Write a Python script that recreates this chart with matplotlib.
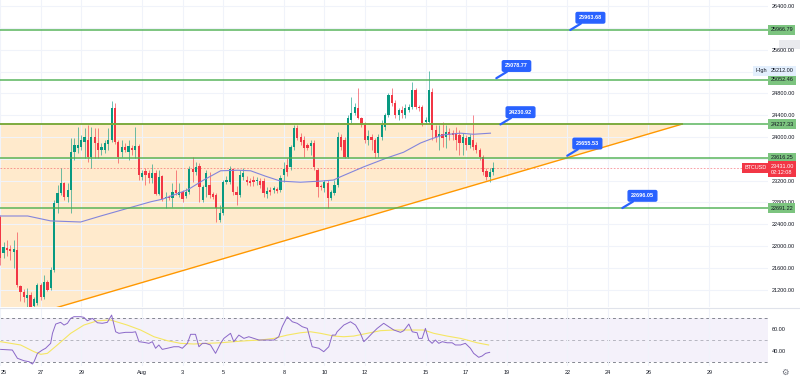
import numpy as np
import pandas as pd
import matplotlib
matplotlib.use('Agg')
import matplotlib.pyplot as plt
import matplotlib.transforms as mtransforms
from matplotlib.lines import Line2D
from matplotlib.patches import Rectangle

plt.rcParams['font.family'] = ['Liberation Sans', 'DejaVu Sans']

# BTCUSD 4h candles from 25 Jul 2022
opens = [22530, 21870, 21960, 21950, 21890, 21930, 21270, 21160, 21050, 21100,
         20900, 20950, 21290, 21060, 21340, 21230, 21560, 22790, 22970, 23160,
         22900, 23030, 23720, 23800, 23820, 23910, 23950, 23630, 24000, 23890,
         23760, 23760, 23870, 23950, 24530, 23910, 23720, 23820, 23720, 23800,
         23760, 23830, 23270, 23380, 23340, 23250, 23340, 22950, 23280, 22880,
         22900, 22880, 23030, 22940, 22990, 22920, 22990, 23410, 23360, 23470,
         22840, 23080, 23120, 22950, 22940, 22480, 22610, 23170, 23170, 23410,
         22990, 22940, 23270, 23210, 23190, 23210, 23190, 23190, 23190, 22950,
         23030, 23030, 23050, 23030, 23300, 23490, 23450, 23820, 24170, 24000,
         23950, 23850, 23830, 23890, 23390, 23100, 23060, 23160, 22880, 22970,
         23120, 24000, 23950, 23630, 24310, 24440, 24530, 24350, 24220, 23950,
         24000, 23950, 23710, 24000, 24180, 24400, 24770, 24620, 24400, 24500,
         24400, 24500, 24550, 24860, 24550, 24550, 24280, 24280, 24830, 24130,
         24000, 24050, 24000, 24090, 24070, 24070, 24040, 23890, 23980, 23850,
         23950, 23850, 23760, 23630, 23380, 23270, 23360]
highs = [22570, 22070, 22110, 22020, 22110, 22260, 21290, 21210, 21230, 21160,
         21060, 21320, 21320, 21470, 21380, 21610, 22840, 23120, 23430, 23170,
         23160, 23980, 23980, 24180, 24040, 24170, 24220, 24180, 24170, 24170,
         23890, 23950, 24170, 24660, 24620, 23950, 23950, 23890, 23950, 23850,
         24180, 23870, 23390, 23430, 23390, 23500, 23390, 23390, 23300, 22990,
         22940, 23160, 23390, 23160, 23030, 23060, 23470, 23630, 23540, 23520,
         23120, 23390, 23360, 22990, 22970, 22750, 23210, 23280, 23470, 23430,
         23100, 23390, 23430, 23280, 23250, 23280, 23270, 23250, 23250, 23080,
         23080, 23100, 23080, 23300, 23540, 23620, 23850, 24220, 24220, 24070,
         24020, 23890, 23950, 23950, 23430, 23140, 23210, 23210, 23030, 23210,
         24090, 24050, 24000, 24400, 24730, 24620, 24900, 24370, 24280, 24130,
         24050, 23980, 24050, 24310, 24440, 24810, 24900, 24680, 24530, 24570,
         24610, 24610, 25010, 24900, 24590, 24590, 24370, 25212, 24900, 24220,
         24220, 24280, 24220, 24170, 24130, 24180, 24130, 24070, 24040, 24050,
         24400, 23910, 23800, 23670, 23430, 23430, 23540]
lows = [21650, 21780, 21820, 21740, 21600, 21250, 20990, 20970, 20860, 20830,
        20840, 20920, 21010, 21030, 21170, 21190, 21520, 22610, 22940, 22840,
        22810, 22610, 23580, 23710, 23760, 23620, 23540, 23430, 23620, 23620,
        23670, 23710, 23760, 23910, 23870, 23520, 23630, 23720, 23580, 23670,
        23620, 23210, 23210, 23120, 23160, 23160, 22940, 22940, 22820, 22700,
        22840, 22720, 22940, 22900, 22810, 22880, 22950, 23170, 23300, 22810,
        22810, 22900, 22880, 22860, 22440, 22440, 22570, 23140, 23140, 22940,
        22750, 22900, 23210, 23120, 23100, 23100, 23120, 23060, 22900, 22880,
        22940, 22970, 22970, 22990, 23170, 23280, 23390, 23760, 23950, 23850,
        23630, 23760, 23670, 23390, 22900, 23030, 22990, 22700, 22840, 22940,
        23080, 23760, 23620, 23620, 24260, 24400, 24330, 24180, 23890, 23850,
        23760, 23620, 23630, 23950, 24130, 24370, 24570, 24350, 24310, 24350,
        24350, 24460, 24510, 24510, 24480, 24200, 24240, 24240, 23950, 23910,
        23760, 23820, 23800, 23950, 23950, 23760, 23670, 23670, 23760, 23800,
        23760, 23710, 23580, 23300, 23210, 23170, 23300]
closes = [21780, 21980, 21930, 21910, 21950, 21290, 21160, 21060, 21100, 20880,
          21030, 21290, 21060, 21340, 21190, 21560, 22790, 22970, 23160, 22900,
          23030, 23720, 23850, 23850, 23950, 24000, 23630, 24000, 23890, 23760,
          23820, 23890, 23950, 24530, 23910, 23630, 23820, 23760, 23830, 23760,
          23830, 23300, 23340, 23300, 23250, 23340, 22950, 23270, 22860, 22900,
          22880, 22990, 22970, 22990, 22860, 22990, 23410, 23360, 23450, 23080,
          23080, 23340, 22940, 22900, 22700, 22610, 23170, 23210, 23410, 22990,
          22940, 23300, 23340, 23170, 23160, 23170, 23210, 23120, 22970, 23010,
          22990, 23060, 23010, 23250, 23410, 23360, 23820, 24170, 23980, 23910,
          23800, 23800, 23890, 23450, 23080, 23080, 23170, 22880, 22990, 23120,
          24000, 23820, 23630, 24350, 24440, 24550, 24350, 24220, 23950, 24020,
          23950, 23710, 24000, 24220, 24400, 24770, 24620, 24400, 24500, 24440,
          24530, 24550, 24860, 24550, 24530, 24260, 24310, 24860, 24130, 24000,
          24050, 23980, 24090, 24040, 24040, 23950, 23890, 24000, 23850, 24000,
          23820, 23760, 23630, 23360, 23270, 23360, 23431]
start = pd.Timestamp('2022-07-25 00:00')

# blue moving average on the price pane (days after 25 Jul, price)
ma_day = [0.02, 1.36, 2.49, 3.97, 4.96, 6.19, 7.42, 8.02, 9.25, 10.04, 10.88, 11.72,
          12.36, 13.10, 13.84, 14.82, 15.81, 16.45, 16.80, 17.93, 19.12, 19.91,
          20.75, 21.24, 21.88, 22.72, 23.36, 24.20]
ma_val = [22550, 22550, 22460, 22440, 22550, 22680, 22810, 22860, 23030, 23210, 23380, 23390,
          23380, 23280, 23190, 23170, 23190, 23210, 23270, 23450, 23620, 23720,
          23890, 23960, 24040, 24070, 24050, 24070]

# RSI and its moving average
rsi_day = [0.02, 0.60, 0.85, 1.17, 1.42, 1.59, 1.67, 1.84, 2.08, 2.24, 2.49, 2.58, 2.74,
           2.98, 3.15, 3.32, 3.48, 3.64, 3.97, 4.13, 4.30, 4.55, 4.80, 5.04, 5.29, 5.50,
           5.70, 5.86, 6.19, 6.52, 6.68, 6.85, 7.09, 7.34, 7.51, 7.67, 7.83, 8.00, 8.25,
           8.57, 8.82, 8.99, 9.24, 9.40, 9.64, 9.81, 9.98, 10.14, 10.38, 10.63, 10.88,
           11.04, 11.37, 11.53, 11.78, 12.03, 12.27, 12.52, 12.77, 13.18, 13.51, 13.75,
           13.92, 14.17, 14.42, 14.66, 14.91, 15.16, 15.40, 15.73, 15.97, 16.22, 16.39,
           16.55, 16.63, 16.96, 17.29, 17.54, 17.78, 17.95, 18.12, 18.36, 18.61, 18.93,
           19.18, 19.43, 19.76, 19.92, 20.17, 20.34, 20.58, 20.66, 20.83, 20.99, 21.15,
           21.32, 21.48, 21.65, 21.82, 22.06, 22.31, 22.47, 22.72, 22.96, 23.21, 23.37,
           23.62, 23.79, 23.96, 24.16]
rsi_val = [41.5, 40.9, 33.4, 31.2, 30.3, 28.2, 30.3, 37.9, 40.9, 42.5, 47.0, 56.1, 64.5,
           66.1, 63.6, 65.2, 69.7, 71.2, 71.2, 70.6, 67.5, 69.7, 65.7, 65.2, 66.1, 72.7,
           57.5, 56.1, 57.0, 57.0, 57.5, 48.5, 47.9, 47.0, 48.5, 42.5, 45.5, 41.5, 42.5,
           43.9, 43.9, 42.5, 47.0, 55.2, 55.2, 43.9, 47.0, 47.0, 45.5, 37.9, 47.0,
           51.5, 56.1, 48.5, 54.5, 51.5, 53.0, 51.5, 50.0, 50.0, 50.0, 53.0,
           62.1, 71.2, 66.6, 65.2, 62.1, 60.6, 43.9, 42.5, 39.4, 43.9, 54.5,
           54.5, 57.5, 63.6, 66.6, 63.6, 56.1, 48.5, 51.5, 56.1, 60.6, 65.2,
           62.1, 59.1, 57.0, 58.5, 64.5, 57.5, 56.6, 51.5, 51.5, 60.6, 50.0,
           47.0, 50.0, 47.0, 48.5, 47.5, 47.5, 45.5, 45.5, 47.0, 42.5, 37.9,
           34.3, 35.5, 37.9, 38.8]
rsi_ma_day = [0.02, 1.01, 1.67, 2.00, 2.33, 2.82, 3.48, 4.13, 4.80, 5.45, 6.27, 6.93, 7.59,
              8.25, 8.90, 9.56, 10.22, 10.88, 11.53, 12.20, 12.85, 13.51, 14.17, 14.82,
              15.32, 15.81, 16.47, 16.96, 17.45, 18.12, 18.77, 19.43, 20.25, 20.91,
              21.40, 22.06, 22.72, 23.05, 23.54, 24.11]
rsi_ma_val = [48.5, 45.5, 39.4, 37.0, 37.9, 45.5, 56.1, 63.6, 67.5, 68.2, 63.6, 59.1, 53.0,
              49.4, 47.0, 46.4, 47.0, 47.5, 48.5, 49.4, 50.0, 51.5, 54.5, 56.6,
              57.5, 56.1, 53.6, 53.0, 53.6, 56.1, 58.5, 59.1, 59.1, 59.1,
              56.1, 53.6, 51.5, 50.0, 47.5, 45.5]

# horizontal levels and their callouts
levels = [25966.79, 25052.46, 24237.33, 23616.25, 22691.22]
callout_txt = ['25963.68', '25078.77', '24230.92', '23655.53', '22696.05']
callout_day = [28.14, 24.49, 24.69, 27.99, 30.71]

# triangle drawing (day, price)
tri_day = [-3.0, 33.67, -3.0]
tri_price = [24237.33, 24237.33, 20238.0]

high_val = 25212.00
last_price = 23431.00
countdown = '02:12:08'

price_ticks = list(range(21200, 26401, 400))
hidden_ticks = [26000, 25200, 23600]
xtick_dates = ['2022-07-25', '2022-07-27', '2022-07-29', '2022-08-01', '2022-08-03',
               '2022-08-05', '2022-08-08', '2022-08-10', '2022-08-12', '2022-08-15',
               '2022-08-17', '2022-08-19', '2022-08-22', '2022-08-24', '2022-08-26',
               '2022-08-29']
xtick_labels = ['25', '27', '29', 'Aug', '3', '5', '8', '10', '12', '15', '17', '19',
                '22', '24', '26', '29']

GREEN = '#089981'
RED = '#f23645'
LEVEL = '#4caf50'
ORANGE = '#ff9800'
BLUE = '#2962ff'
GRID = '#f0f3fa'
TXT = '#131722'

opens = np.array(opens, float)
highs = np.array(highs, float)
lows = np.array(lows, float)
closes = np.array(closes, float)
times = pd.date_range(start, periods=len(opens), freq='4h')
days = ((times - start) / pd.Timedelta(days=1)).values
xt = [(pd.Timestamp(d) - start) / pd.Timedelta(days=1) for d in xtick_dates]

fig = plt.figure(figsize=(8, 3.81), dpi=100)
fig.patch.set_facecolor('white')
ax = fig.add_axes([0, 74 / 381, 768 / 800, 307 / 381])
ax2 = fig.add_axes([0, 15 / 381, 768 / 800, 57 / 381], sharex=ax)

# price pane
ax.set_xlim(-0.01, 37.9)
ax.set_ylim(20880, 26514)
ax.set_yticks(price_ticks)
ax.set_yticklabels(['' if p in hidden_ticks else f'{p:.2f}' for p in price_ticks])
ax.yaxis.tick_right()
ax.tick_params(axis='y', length=0, pad=3, labelsize=4, labelcolor=TXT)
ax.tick_params(axis='x', length=0, labelbottom=False)
ax.set_xticks(xt)
ax.grid(True, color=GRID, lw=0.8, zorder=0)
for s in ax.spines.values():
    s.set_visible(False)

ax.fill(tri_day, tri_price, color=ORANGE, alpha=0.2, lw=0, zorder=1)
ax.plot(tri_day[:2], tri_price[:2], color=ORANGE, lw=1.2, zorder=5)
ax.plot(tri_day[1:], tri_price[1:], color=ORANGE, lw=1.0, zorder=5)

up = closes >= opens
col = np.where(up, GREEN, RED)
ax.vlines(days, lows, highs, colors=col, lw=0.6, alpha=0.7, zorder=3)
body_lo = np.minimum(opens, closes)
body_h = np.maximum(np.abs(closes - opens), 15)
ax.bar(days, body_h, bottom=body_lo, width=0.11, color=col, lw=0, zorder=4)

ax.plot(ma_day, ma_val, color='#8385dc', lw=0.8, zorder=4)
ax.axhline(last_price, color=RED, lw=0.6, ls=(0, (2, 2)), alpha=0.55, zorder=2)

for lv in levels:
    ax.axhline(lv, color=LEVEL, lw=1.2, alpha=0.85, zorder=6)

for txt, d in zip(callout_txt, callout_day):
    ax.annotate(txt, xy=(d, float(txt)), xytext=(14.5, 8.8), textcoords='offset points',
                fontsize=4, color='white', fontweight='bold', ha='center', va='center',
                bbox=dict(boxstyle='round,pad=0.5,rounding_size=0.25', fc=BLUE, ec=BLUE),
                arrowprops=dict(arrowstyle='-', color=BLUE, lw=1.6, shrinkA=0, shrinkB=0),
                zorder=8)

# right scale labels
trans = mtransforms.blended_transform_factory(ax.transAxes, ax.transData)
for lv in levels:
    ax.text(1.003, lv, f'{lv:.2f}', transform=trans, fontsize=4, ha='left', va='center',
            color=TXT, clip_on=False, zorder=10,
            bbox=dict(boxstyle='square,pad=0.45', fc='#7cc47f', ec='none'))
ax.text(0.999, high_val, 'High', transform=trans, fontsize=4, ha='right', va='center',
        color=TXT, clip_on=False, zorder=10,
        bbox=dict(boxstyle='square,pad=0.45', fc='#e3effd', ec='none'))
ax.text(1.003, high_val, f'{high_val:.2f}', transform=trans, fontsize=4, ha='left',
        va='center', color=TXT, clip_on=False, zorder=10,
        bbox=dict(boxstyle='square,pad=0.45', fc='#e3effd', ec='none'))
ax.text(0.999, last_price, 'BTCUSD', transform=trans, fontsize=4, ha='right', va='center',
        color='white', clip_on=False, zorder=10,
        bbox=dict(boxstyle='square,pad=0.45', fc=RED, ec='none'))
tr_up = mtransforms.offset_copy(trans, fig=fig, x=0, y=3.2, units='points')
ax.text(1.003, last_price, f'{last_price:.2f}\n{countdown}', transform=tr_up, fontsize=4,
        ha='left', va='top', color='white', linespacing=1.3, clip_on=False, zorder=10,
        bbox=dict(boxstyle='square,pad=0.45', fc=RED, ec='none'))
# small grey scale button, drawn beneath the tick labels
fig.add_artist(Rectangle((779 / 800, 1 - 49 / 381), 21 / 800, 9 / 381,
                         transform=fig.transFigure, fc='#e9eaee', ec='none', zorder=-1))

# RSI pane
ax2.set_ylim(26.4, 78.2)
ax2.axhspan(30, 70, color='#7e57c2', alpha=0.08, lw=0, zorder=0)
ax2.grid(True, axis='x', color=GRID, lw=0.8, zorder=0)
for lv, a in [(70, 0.9), (50, 0.5), (30, 0.9)]:
    ax2.axhline(lv, color='#787b86', lw=0.7, ls=(0, (3, 3)), alpha=a, zorder=1)
ax2.plot(rsi_ma_day, rsi_ma_val, color='#f5e663', lw=0.8, zorder=2)
ax2.plot(rsi_day, rsi_val, color='#8a67c8', lw=0.7, zorder=3)
ax2.set_yticks([40, 60])
ax2.set_yticklabels(['40.00', '60.00'])
ax2.yaxis.tick_right()
ax2.tick_params(axis='y', length=0, pad=3, labelsize=4, labelcolor=TXT)
ax2.set_xticks(xt)
ax2.set_xticklabels(xtick_labels)
ax2.tick_params(axis='x', length=0, pad=3, labelsize=4, labelcolor=TXT)
ax2.get_xticklabels()[0].set_horizontalalignment('left')
for s in ax2.spines.values():
    s.set_visible(False)
ax2.text(1.022, -0.12, '\u2699', transform=ax2.transAxes, fontsize=6, color='#6a6d78',
         ha='center', va='center', family='DejaVu Sans', clip_on=False)

fig.add_artist(Line2D([0, 1], [73.5 / 381, 73.5 / 381], transform=fig.transFigure,
                      color='#e0e3eb', lw=0.8))

fig.savefig('out.png', dpi=100, facecolor='white')
